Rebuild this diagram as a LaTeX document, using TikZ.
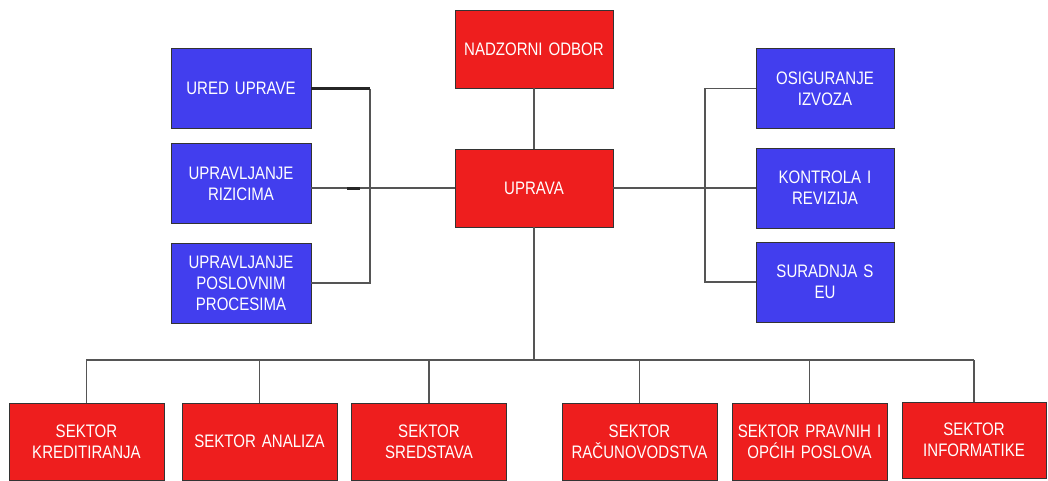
\documentclass[tikz,border=0pt]{standalone}
\usepackage{fontspec}
\setmainfont{Liberation Sans}[FakeStretch=0.83]
\usepackage{tikz}
\usetikzlibrary{positioning}
\definecolor{odborred}{RGB}{238,30,30}
\definecolor{sluzbablue}{RGB}{66,62,238}
\definecolor{linkgrey}{RGB}{85,85,85}
\tikzset{
    odbor/.style={
           rectangle,
           fill=odborred,
           draw=black!80, thin,
           text=white,
           minimum height=1.56cm,
           inner sep=2pt,
           text centered,
           font=\fontsize{10.3}{12}\selectfont,
           },
    sluzba/.style={
           odbor,
           fill=sluzbablue,
           minimum height=1.6cm,
           },
    link/.style={
           draw=linkgrey, line width=0.85pt,
           },
    thicklink/.style={
           draw=black!85, line width=1.7pt,
           },
}
\begin{document}
\begin{tikzpicture}

 \useasboundingbox (-10.68,3.76) rectangle (10.28,-5.84);

 \node[odbor, text width=3.02cm] (Uprava) {UPRAVA};

 \node[odbor,    	% upper box
  text width=3.02cm,
  above of=Uprava,
  node distance=2.78cm] (Nadzor)
  {NADZORNI ODBOR};

 % blue boxes on the left
 \node[sluzba,
  text width=2.66cm,
  yshift=1.99cm,
  left of=Uprava,
  node distance=5.86cm] (Ured)
  {URED UPRAVE};

 \node[sluzba,
  text width=2.66cm,
  yshift=0.09cm,
  left of=Uprava,
  node distance=5.86cm] (Rizici)
  {UPRAVLJANJE\\ RIZICIMA};

 \node[sluzba,
  text width=2.66cm,
  yshift=-1.9cm,
  left of=Uprava,
  node distance=5.86cm] (Procesi)
  {UPRAVLJANJE\\ POSLOVNIM\\ PROCESIMA};

 % blue boxes on the right
 \node[sluzba,
  text width=2.62cm,
  yshift=1.99cm,
  right of=Uprava,
  node distance=5.82cm] (Izvoz)
  {OSIGURANJE\\ IZVOZA};

 \node[sluzba,
  text width=2.62cm,
  right of=Uprava,
  node distance=5.82cm] (Revizija)
  {KONTROLA I\\ REVIZIJA};

 \node[sluzba,
  text width=2.62cm,
  yshift=-1.88cm,
  right of=Uprava,
  node distance=5.82cm] (Suradnja)
  {SURADNJA S\\ EU};

 % sektori below
 \node[odbor,
  minimum height=1.54cm,
  text width=2.96cm,
  xshift=-8.95cm,
  below of=Uprava,
  node distance=5.07cm] (Kreditiranje)
  {SEKTOR\\ KREDITIRANJA};

 \node[odbor,
  minimum height=1.54cm,
  text width=2.96cm,
  xshift=-5.49cm,
  below of=Uprava,
  node distance=5.07cm] (Analiza)
  {SEKTOR ANALIZA};

 \node[odbor,
  minimum height=1.54cm,
  text width=2.96cm,
  xshift=-2.1cm,
  below of=Uprava,
  node distance=5.07cm] (Sredstva)
  {SEKTOR\\ SREDSTAVA};

 \node[odbor,
  minimum height=1.54cm,
  text width=2.96cm,
  xshift=2.11cm,
  below of=Uprava,
  node distance=5.07cm] (Racunovodstvo)
  {SEKTOR\\ RAČUNOVODSTVA};

 \node[odbor,
  minimum height=1.54cm,
  text width=2.96cm,
  xshift=5.51cm,
  below of=Uprava,
  node distance=5.07cm] (Pravni)
  {SEKTOR PRAVNIH I\\ OPĆIH POSLOVA};

 \node[odbor,
  minimum height=1.52cm,
  text width=2.74cm,
  xshift=8.8cm,
  below of=Uprava,
  node distance=5.04cm] (Informatika)
  {SEKTOR\\ INFORMATIKE};

 % bus lines
 \coordinate[left of=Uprava, node distance=3.28cm] (LBus);
 \coordinate[right of=Uprava, node distance=3.42cm] (RBus);
 \coordinate[below of=Uprava, node distance=3.44cm] (DBus);

 \path[link]
 (Nadzor) -- (Uprava)
 (Uprava.west) -- (Uprava.west -| Rizici.east)
 (Ured.east -| LBus) -- (Procesi.east -| LBus) -- (Procesi.east)
 (Uprava.east) -- (Uprava.east -| Revizija.west)
 (Izvoz.west) -- (Izvoz.west -| RBus) -- (Suradnja.west -| RBus) -- (Suradnja.west)
 (Uprava.south) -- (DBus)
 (Kreditiranje.north |- DBus) -- (Informatika.north |- DBus);

 \foreach \s in {Kreditiranje,Analiza,Sredstva,Racunovodstvo,Pravni,Informatika}
   \path[link] (\s.north) -- (\s.north |- DBus);

 \path[thicklink] (Ured.east) -- (Ured.east -| LBus);
 \path[thicklink] ([xshift=-0.46cm]LBus |- Uprava.west) -- ([xshift=-0.2cm]LBus |- Uprava.west);

\end{tikzpicture}
\end{document}
